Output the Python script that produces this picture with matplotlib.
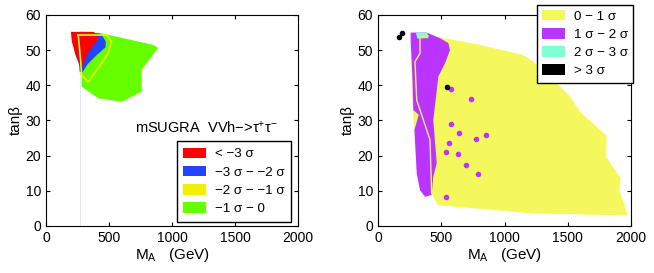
import numpy as np
import matplotlib
matplotlib.use('Agg')
import matplotlib.pyplot as plt
from matplotlib.patches import Polygon, Patch

# ---------------- left panel: mSUGRA VVh -> tau tau ----------------
green_x = [270, 426, 852, 891, 760, 760, 601, 415, 283, 283, 262]
green_y = [55.3, 54.9, 51.5, 50.6, 44.4, 38.2, 35.3, 36.3, 39.6, 43.4, 52.0]

blue_x = [265, 440, 475, 472, 400, 330, 290, 268, 262]
blue_y = [55.0, 54.5, 52.4, 50.8, 48.5, 46.0, 43.7, 43.7, 50.0]

red_x = [198, 380, 420, 330, 290, 270, 235, 205]
red_y = [55.2, 55.2, 53.5, 49.0, 45.5, 45.3, 48.5, 52.5]

yel_line_x = [256, 482, 521, 494, 442, 336, 283, 275, 256]
yel_line_y = [54.3, 54.3, 52.4, 49.1, 46.3, 41.0, 42.9, 47.2, 54.3]

blue_line_x = [255, 420, 445, 400, 300, 275, 262, 255]
blue_line_y = [54.7, 54.6, 53.0, 50.0, 45.0, 44.0, 50.0, 54.7]

left_labels = ['< \u22123 \u03c3', '\u22123 \u03c3 \u2212 \u22122 \u03c3',
               '\u22122 \u03c3 \u2212 \u22121 \u03c3', '\u22121 \u03c3 \u2212 0']
left_colors = ['#ff0000', '#2244ff', '#f0f000', '#66ff00']

# ---------------- right panel ----------------
yel_x = [464, 806, 1149, 1228, 1413, 1518, 1597, 1808, 1802, 1918, 1907, 1971,
         1966, 1218, 477, 450, 300, 266, 266, 262]
yel_y = [53.8, 51.5, 48.6, 46.7, 40.6, 36.8, 32.5, 25.6, 19.7, 13.6, 10.2, 3.6,
         3.0, 3.6, 5.9, 7.3, 20.0, 38.2, 41.5, 50.0]

pur_x = [258, 385, 490, 556, 569, 530, 477, 437, 464, 437, 424, 372, 332, 306,
         288, 322, 279, 274, 258]
pur_y = [55.0, 55.0, 53.4, 52.0, 50.0, 46.3, 42.5, 30.1, 17.8, 14.0, 8.8, 8.3,
         10.2, 15.0, 27.3, 31.6, 33.0, 40.6, 52.9]

cyan_x = [300, 390, 400, 310]
cyan_y = [55.0, 55.0, 53.4, 53.3]

pline_x = [395, 332, 332, 292, 306, 411, 424]
pline_y = [54.0, 53.8, 49.1, 46.7, 35.8, 24.5, 9.3]

dots_pur_x = [575, 733, 577, 640, 851, 772, 561, 538, 632, 696, 788, 538]
dots_pur_y = [38.9, 36.0, 29.0, 26.5, 26.0, 24.7, 23.7, 21.1, 20.5, 17.3, 14.7, 8.3]

dots_blk_x = [169, 192, 548]
dots_blk_y = [53.8, 55.0, 39.4]

right_labels = ['0 \u2212 1 \u03c3', '1 \u03c3 \u2212 2 \u03c3',
                '2 \u03c3 \u2212 3 \u03c3', '> 3 \u03c3']
right_colors = ['#f4f85c', '#bb33ff', '#7fffd4', '#000000']

plt.rcParams['font.family'] = ['Liberation Sans', 'DejaVu Sans']
plt.rcParams['mathtext.fontset'] = 'custom'
plt.rcParams['mathtext.rm'] = 'Liberation Sans'
plt.rcParams['mathtext.it'] = 'Liberation Sans:italic'

fig = plt.figure(figsize=(6.54, 2.73), dpi=100)
ax1 = fig.add_axes([0.0703, 0.1722, 0.3853, 0.7729])
ax2 = fig.add_axes([0.578, 0.1722, 0.3869, 0.7729])

# left
ax1.plot([270, 270], [0, 44], color='#dde4f0', lw=0.6)
ax1.add_patch(Polygon(np.c_[green_x, green_y], closed=True, fc=left_colors[3], ec='none'))
ax1.add_patch(Polygon(np.c_[blue_x, blue_y], closed=True, fc=left_colors[1], ec='none'))
ax1.add_patch(Polygon(np.c_[red_x, red_y], closed=True, fc=left_colors[0], ec='none'))
ax1.plot(blue_line_x, blue_line_y, color=left_colors[1], lw=1.0)
ax1.plot(yel_line_x, yel_line_y, color=left_colors[2], lw=1.2)
ax1.text(706, 27.9, 'mSUGRA  VVh\u2212>\u03c4$^{+}$\u03c4$^{\u2212}$', fontsize=10.5, va='center')

hl = [Patch(fc=c, ec='none') for c in left_colors]
ax1.legend(hl, left_labels, loc='upper left', bbox_to_anchor=(0.270, 0.484), bbox_transform=fig.transFigure,
           fontsize=9.6, frameon=True, fancybox=False, edgecolor='black', framealpha=1,
           handlelength=1.7, handleheight=0.85, handletextpad=0.65, labelspacing=0.4,
           borderpad=0.5, borderaxespad=0)

# right
ax2.add_patch(Polygon(np.c_[yel_x, yel_y], closed=True, fc=right_colors[0], ec='none'))
ax2.add_patch(Polygon(np.c_[pur_x, pur_y], closed=True, fc=right_colors[1], ec='none'))
ax2.plot(pline_x, pline_y, color='#f0f060', lw=1.0)
ax2.add_patch(Polygon(np.c_[cyan_x, cyan_y], closed=True, fc=right_colors[2], ec='none'))
ax2.scatter(dots_pur_x, dots_pur_y, s=9, color=right_colors[1], zorder=3)
ax2.scatter(dots_blk_x, dots_blk_y, s=9, color='black', zorder=3)

hr = [Patch(fc=c, ec='none') for c in right_colors]
ax2.legend(hr, right_labels, loc='upper left', bbox_to_anchor=(0.821, 0.982), bbox_transform=fig.transFigure,
           fontsize=9.6, frameon=True, fancybox=False, edgecolor='black', framealpha=1,
           handlelength=1.7, handleheight=0.8, handletextpad=0.65, labelspacing=0.4,
           borderpad=0.4, borderaxespad=0)

for ax in (ax1, ax2):
    ax.set_xlim(0, 2000)
    ax.set_ylim(0, 60)
    ax.set_xticks([0, 500, 1000, 1500, 2000])
    ax.set_yticks([0, 10, 20, 30, 40, 50, 60])
    ax.tick_params(direction='in', top=True, right=True, labelsize=10, length=3)
    ax.set_xlabel('M$_{\\mathrm{A}}$   (GeV)', fontsize=11, labelpad=1)
    ax.set_ylabel('tan\u03b2', fontsize=11, labelpad=2)
    for s in ax.spines.values():
        s.set_linewidth(0.8)

fig.savefig('out.png', dpi=100)
